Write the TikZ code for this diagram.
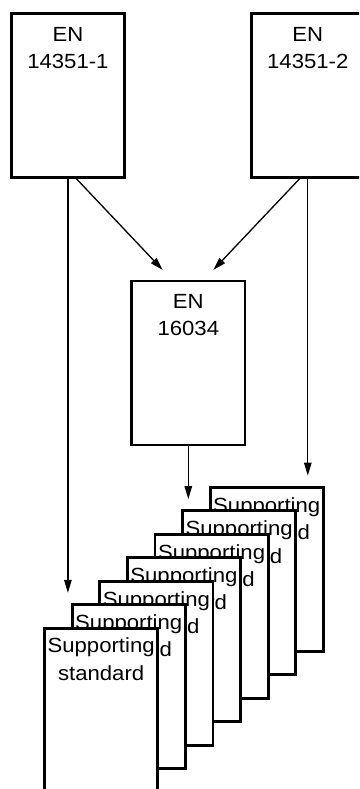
\documentclass[tikz,border=0pt]{standalone}
\usepackage{fontspec}
\setmainfont[FakeStretch=1.08]{Liberation Sans}
\usetikzlibrary{arrows.meta}
\begin{document}
\begin{tikzpicture}[x=1pt,y=-1pt,
  doc/.style={draw=black,line width=2.8pt,fill=white,minimum width=113.2pt,minimum height=163.9pt,inner sep=0pt},
  txt/.style={font=\fontsize{20.5}{27.3}\selectfont,align=center,inner sep=0pt,anchor=north},
  conn/.style={line width=1.3pt,-{Triangle[length=13pt,width=7.5pt]}}]
\useasboundingbox (0,0) rectangle (359,789);
\clip (0,0) rectangle (359,789);
\node[doc] (b1) at (67.9,95.7) {};
\node[txt] (t1) at ([yshift=-14.6pt]b1.north) {EN\\14351-1};
\node[doc] (b2) at (307.8,95.7) {};
\node[txt] (t2) at ([yshift=-14.6pt]b2.north) {EN\\14351-2};
\node[doc] (b3) at (188.3,363) {};
\node[txt] (t3) at ([yshift=-14.6pt]b3.north) {EN\\16034};
\foreach \k in {7,6,...,1} {
  \node[doc] (s\k) at ({101.15+27.6*(\k-1)},{710.05-23.45*(\k-1)}) {};
  \node[txt] (st\k) at ([yshift=-11.2pt]s\k.north) {Supporting\\standard};
}
\draw[conn] ([xshift=8.8pt]b1.south) -- ([xshift=-25.6pt,yshift=9.7pt]b3.north);
\draw[conn] ([xshift=-8.5pt]b2.south) -- ([xshift=25pt,yshift=9.7pt]b3.north);
\draw[conn,shorten >=10.4pt] (b1.south) -- (b1.south |- s2.north);
\draw[conn,shorten >=10.4pt] (b3.south) -- (b3.south |- s6.north);
\draw[conn,shorten >=10.4pt] (b2.south) -- (b2.south |- s7.north);
\end{tikzpicture}
\end{document}
